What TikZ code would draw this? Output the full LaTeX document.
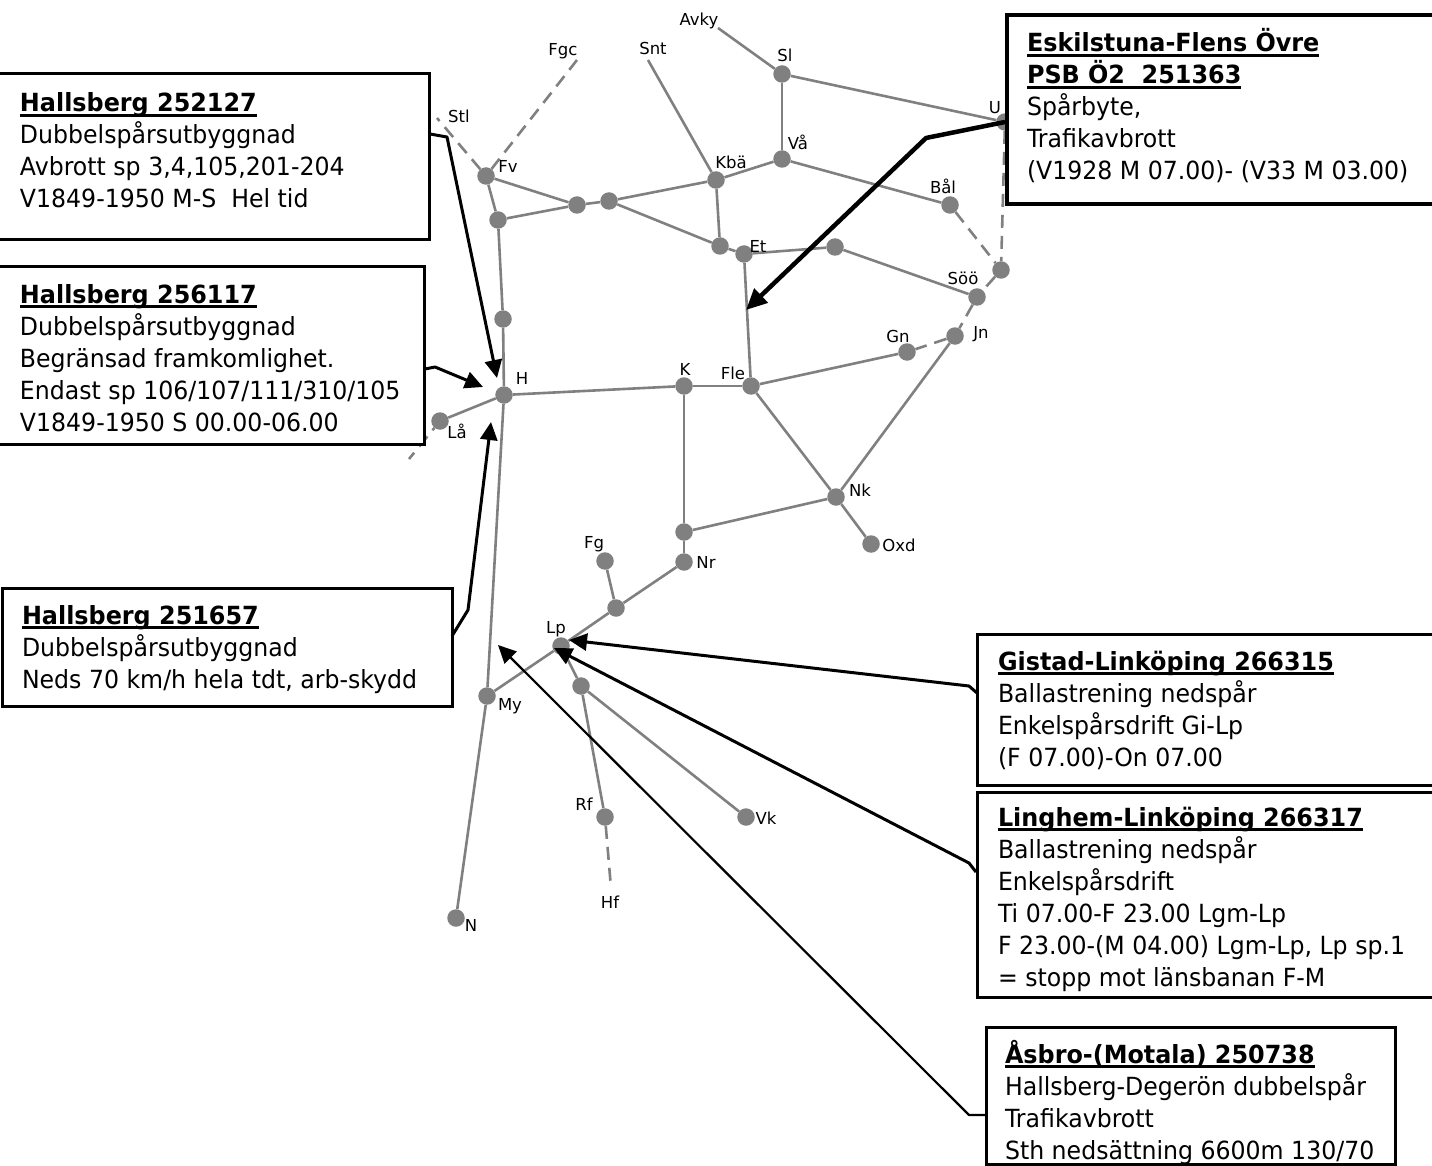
\documentclass[tikz,border=0pt]{standalone}
\usepackage{fontspec}
\setmainfont[FakeStretch=0.945,BoldFeatures={FakeStretch=0.955}]{DejaVu Sans}
\newfontfamily\lblfont{DejaVu Sans}
\usetikzlibrary{arrows.meta}
\definecolor{trackgray}{HTML}{808080}
\newcommand{\ttl}[1]{\setbox0\hbox{\textbf{#1}}\leavevmode\rlap{\rule[-5pt]{\wd0}{2.6pt}}\box0 }
\newcommand{\infotext}[6]{\parbox[c][#1pt][t]{#2pt}{\fontsize{25pt}{32pt}\selectfont
  \setlength\parindent{0pt}\setlength\leftskip{#3pt}\setlength\rightskip{-300pt plus 1fil}\setlength\parfillskip{0pt}%
  \rule{0pt}{#4pt}#5\\#6}}
\tikzset{
  x=1pt,y=-1pt,
  track/.style={draw=trackgray,line width=2.6pt},
  trackdash/.style={draw=trackgray,line width=2.6pt,dash pattern=on 13pt off 8pt},
  dot/.style={circle,fill=trackgray,inner sep=0pt,minimum size=17.5pt},
  lbl/.style={font=\lblfont\fontsize{16.5pt}{19pt}\selectfont,inner sep=0pt,text=black},
  infobox/.style={draw=black,fill=white,line width=3pt,inner sep=0pt,outer sep=0pt,anchor=north west},
  callout/.style={draw=black,line width=3pt,line join=round,-{Triangle[length=18pt,width=17pt]}},
  calloutbold/.style={draw=black,line width=4.5pt,line join=round,-{Triangle[length=21pt,width=19pt]}},
}
\begin{document}
\begin{tikzpicture}
\useasboundingbox (0,0) rectangle (1432,1166);
% stations
\foreach \n/\px/\py in {Sl/782/74,Va/782/159,Kba/716/180,Fv/486/176,a/498/220,b/577/205,c/609/201,d/720/246,Et/744/254,e/835/247,Bal/950/205,Soo/977/297,f/1001/270,Jn/955/336,Gn/907/352,Fle/751/386,K/684/386,H/504/395,g/503/319,La/440/421,Nk/836/497,Oxd/871/544,h/684/532,Nr/684/562,Fg/605/561,i/616/608,Lp/561/646,j/581/686,My/487/696,Rf/605/817,Vk/746/817,N/456/918,U/1005/122}
  \node[dot] (\n) at (\px,\py) {};
% free ends
\coordinate (endAvky) at (718,28);
\coordinate (endSnt) at (648,60);
\coordinate (endFgc) at (577,60);
\coordinate (endStl) at (437,118);
\coordinate (endLa) at (409,459);
\coordinate (endHf) at (611,888);
% solid track
\foreach \p/\q in {endAvky/Sl,Sl/U,Sl/Va,Va/Kba,Va/Bal,endSnt/Kba,Kba/c,c/b,b/a,Fv/b,Fv/a,a/g,g/H,Kba/d,c/d,d/Et,Et/e,e/Soo,Et/Fle,H/K,K/Fle,Fle/Gn,Fle/Nk,Nk/Jn,Nk/Oxd,K/h,h/Nk,h/Nr,Nr/i,i/Fg,i/Lp,Lp/My,Lp/j,j/Vk,j/Rf,H/La,H/My,My/N}
  \draw[track] (\p) -- (\q);
% dashed track
\foreach \p/\q in {Fv/endStl,Fv/endFgc,Bal/f,U/f,f/Soo,Soo/Jn,Jn/Gn,Rf/endHf}
  \draw[trackdash] (\p) -- (\q);
\draw[trackdash,dash phase=10pt] (La) -- (endLa);
% labels
\foreach \n/\t/\px/\py in {lAvky/Avky/699/21,lFgc/Fgc/563/51,lSnt/Snt/653/48,lSl/Sl/785/55,lU/U/995/108,lStl/Stl/459/116,lFv/Fv/508/166,lKba/Kbä/731/162,lVa/Vå/798/142,lBal/Bål/943/186,lEt/Et/758/246,lSoo/Söö/963/278,lGn/Gn/898/336,lJn/Jn/981/334,lH/H/522/378,lK/K/685/369,lFle/Fle/733/373,lLa/Lå/457/431,lNk/Nk/860/490,lOxd/Oxd/899/545,lNr/Nr/706/562,lFg/Fg/594/544,lLp/Lp/556/629,lMy/My/510/706,lRf/Rf/584/804,lVk/Vk/766/818,lHf/Hf/610/902,lN/N/471/925}
  \node[lbl] (\n) at (\px,\py) {\t};
% boxes
\node[infobox] (b1) at (-2,74) {\infotext{166}{431}{22}{38}{\ttl{Hallsberg 252127}}{Dubbelspårsutbyggnad\\Avbrott sp 3,4,105,201-204\\V1849-1950 M-S\ \ Hel tid}};
\node[infobox] (b2) at (-2,267) {\infotext{177}{426}{22}{36}{\ttl{Hallsberg 256117}}{Dubbelspårsutbyggnad\\Begränsad framkomlighet.\\Endast sp 106/107/111/310/105\\V1849-1950 S 00.00-06.00}};
\node[infobox,line width=4.5pt] (b3) at (1007,15) {\infotext{189}{430}{20}{37}{\ttl{Eskilstuna-Flens Övre}\\\ttl{PSB Ö2\ \ 251363}}{Spårbyte,\\Trafikavbrott\\(V1928 M 07.00)- (V33 M 03.00)}};
\node[infobox] (b4) at (2,588) {\infotext{118}{450}{20}{36}{\ttl{Hallsberg 251657}}{Dubbelspårsutbyggnad\\Neds 70 km/h hela tdt, arb-skydd}};
\node[infobox] (b5) at (977,634) {\infotext{151}{460}{21}{36}{\ttl{Gistad-Linköping 266315}}{Ballastrening nedspår\\Enkelspårsdrift Gi-Lp\\(F 07.00)-On 07.00}};
\node[infobox] (b6) at (977,792) {\infotext{205}{460}{21}{34}{\ttl{Linghem-Linköping 266317}}{Ballastrening nedspår\\Enkelspårsdrift\\Ti 07.00-F 23.00 Lgm-Lp\\F 23.00-(M 04.00) Lgm-Lp, Lp sp.1\\= stopp mot länsbanan F-M}};
\node[infobox] (b7) at (986,1027) {\infotext{137}{409}{19}{36}{\ttl{Åsbro-(Motala) 250738}}{Hallsberg-Degerön dubbelspår\\Trafikavbrott\\Sth nedsättning 6600m 130/70}};
% callouts
\coordinate (s1) at (430,134); \coordinate (k1) at (447,137); \coordinate (t1) at (497,378);
\coordinate (s2) at (425,369); \coordinate (k2) at (435,367); \coordinate (t2) at (483,387);
\coordinate (s3) at (1005,122); \coordinate (k3) at (926,138); \coordinate (t3) at (746,310);
\coordinate (s4) at (452,636); \coordinate (k4) at (468,610); \coordinate (t4) at (491,422);
\coordinate (s5) at (977,693); \coordinate (k5) at (969,686); \coordinate (t5) at (569,640);
\coordinate (s6) at (976,872); \coordinate (k6) at (969,863); \coordinate (t6) at (554,648);
\coordinate (s7) at (986,1115); \coordinate (k7) at (969,1115); \coordinate (t7) at (498,645);
\draw[callout] (s1) -- (k1) -- (t1);
\draw[callout] (s2) -- (k2) -- (t2);
\draw[calloutbold] (s3) -- (k3) -- (t3);
\draw[callout] (s4) -- (k4) -- (t4);
\draw[callout] (s5) -- (k5) -- (t5);
\draw[callout] (s6) -- (k6) -- (t6);
\draw[callout,line width=2.2pt] (s7) -- (k7) -- (t7);
\end{tikzpicture}
\end{document}
